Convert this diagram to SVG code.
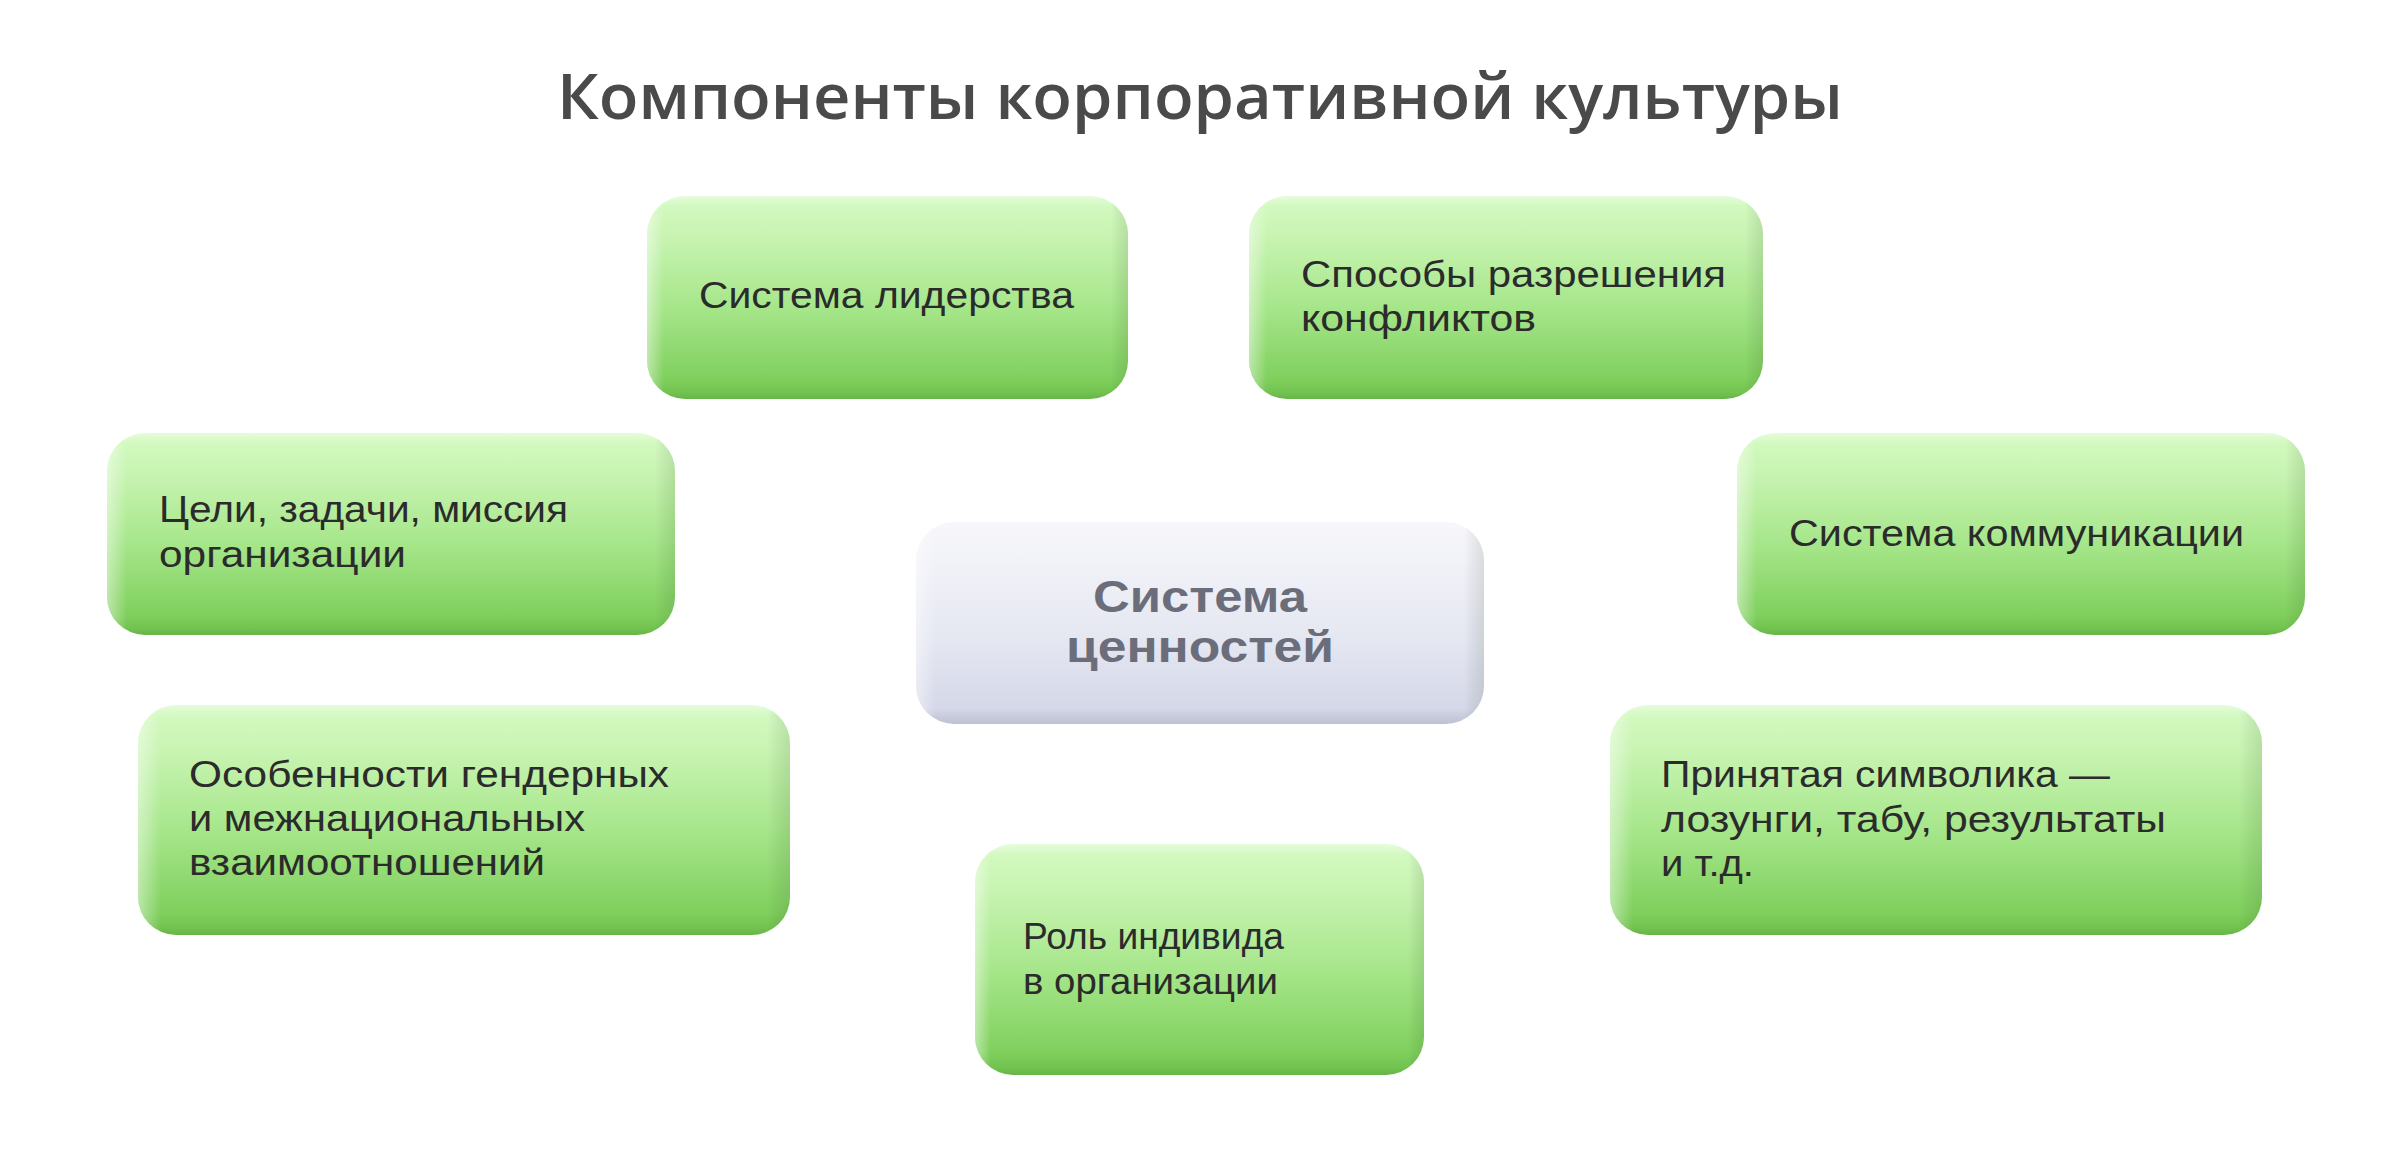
<svg xmlns="http://www.w3.org/2000/svg" width="2400" height="1156" viewBox="0 0 2400 1156">
<defs>
<linearGradient id="gGreen" x1="0" y1="0" x2="0" y2="1">
<stop offset="0" stop-color="#e6fcdc"/>
<stop offset="0.05" stop-color="#d2f9bf"/>
<stop offset="0.2" stop-color="#c8f4b2"/>
<stop offset="0.55" stop-color="#a6e68a"/>
<stop offset="0.9" stop-color="#80d05e"/>
<stop offset="0.97" stop-color="#72c250"/>
<stop offset="1" stop-color="#66b446"/>
</linearGradient>
<linearGradient id="gGrey" x1="0" y1="0" x2="0" y2="1">
<stop offset="0" stop-color="#f7f7fb"/>
<stop offset="0.2" stop-color="#f1f2f8"/>
<stop offset="0.6" stop-color="#e4e6f1"/>
<stop offset="0.92" stop-color="#d5d8e8"/>
<stop offset="1" stop-color="#bec1d3"/>
</linearGradient>
<linearGradient id="gEdge" x1="0" y1="0" x2="1" y2="0">
<stop offset="0" stop-color="#ffffff" stop-opacity="0.45"/>
<stop offset="0.035" stop-color="#ffffff" stop-opacity="0"/>
<stop offset="0.965" stop-color="#000000" stop-opacity="0"/>
<stop offset="1" stop-color="#204010" stop-opacity="0.12"/>
</linearGradient>
</defs>
<style>
.g{fill:url(#gGreen)}
.c{fill:url(#gGrey)}
.e{fill:url(#gEdge)}
.t{font-family:"Liberation Sans","Noto Sans",sans-serif;font-size:37px;fill:#2b2b2b}
.h{font-family:"Open Sans","Noto Sans","Liberation Sans",sans-serif;font-size:64px;font-weight:600;fill:#4a4a4a}
.m{font-family:"Liberation Sans","Noto Sans",sans-serif;font-size:44px;font-weight:bold;fill:#6b6e7a}
</style>
<rect width="2400" height="1156" fill="#ffffff"/>
<text class="h" x="1200" y="119" text-anchor="middle" textLength="1286" lengthAdjust="spacingAndGlyphs">Компоненты корпоративной культуры</text>
<g id="connectors"></g>
<g id="n-leadership">
<rect class="g" x="647" y="196" width="481" height="203" rx="38"/>
<rect class="e" x="647" y="196" width="481" height="203" rx="38"/>
<text class="t" x="699" y="308" textLength="375" lengthAdjust="spacingAndGlyphs">Система лидерства</text>
</g>
<g id="n-conflicts">
<rect class="g" x="1249" y="196" width="514" height="203" rx="38"/>
<rect class="e" x="1249" y="196" width="514" height="203" rx="38"/>
<text class="t" x="1301" y="287" textLength="425" lengthAdjust="spacingAndGlyphs">Способы разрешения</text>
<text class="t" x="1301" y="331" textLength="235" lengthAdjust="spacingAndGlyphs">конфликтов</text>
</g>
<g id="n-goals">
<rect class="g" x="107" y="433" width="568" height="202" rx="38"/>
<rect class="e" x="107" y="433" width="568" height="202" rx="38"/>
<text class="t" x="159" y="522" textLength="409" lengthAdjust="spacingAndGlyphs">Цели, задачи, миссия</text>
<text class="t" x="159" y="567" textLength="247" lengthAdjust="spacingAndGlyphs">организации</text>
</g>
<g id="n-communication">
<rect class="g" x="1737" y="433" width="568" height="202" rx="38"/>
<rect class="e" x="1737" y="433" width="568" height="202" rx="38"/>
<text class="t" x="1789" y="546" textLength="455" lengthAdjust="spacingAndGlyphs">Система коммуникации</text>
</g>
<g id="n-values">
<rect class="c" x="916" y="522" width="568" height="202" rx="38"/>
<rect class="e" x="916" y="522" width="568" height="202" rx="38"/>
<text class="m" x="1200" y="612" text-anchor="middle" textLength="214" lengthAdjust="spacingAndGlyphs">Система</text>
<text class="m" x="1200" y="662" text-anchor="middle" textLength="268" lengthAdjust="spacingAndGlyphs">ценностей</text>
</g>
<g id="n-gender">
<rect class="g" x="138" y="705" width="652" height="230" rx="38"/>
<rect class="e" x="138" y="705" width="652" height="230" rx="38"/>
<text class="t" x="189" y="787" textLength="480" lengthAdjust="spacingAndGlyphs">Особенности гендерных</text>
<text class="t" x="189" y="831" textLength="396" lengthAdjust="spacingAndGlyphs">и межнациональных</text>
<text class="t" x="189" y="875" textLength="356" lengthAdjust="spacingAndGlyphs">взаимоотношений</text>
</g>
<g id="n-symbols">
<rect class="g" x="1610" y="705" width="652" height="230" rx="38"/>
<rect class="e" x="1610" y="705" width="652" height="230" rx="38"/>
<text class="t" x="1661" y="787" textLength="449" lengthAdjust="spacingAndGlyphs">Принятая символика —</text>
<text class="t" x="1661" y="832" textLength="505" lengthAdjust="spacingAndGlyphs">лозунги, табу, результаты</text>
<text class="t" x="1661" y="876" textLength="93" lengthAdjust="spacingAndGlyphs">и т.д.</text>
</g>
<g id="n-role">
<rect class="g" x="975" y="844" width="449" height="231" rx="38"/>
<rect class="e" x="975" y="844" width="449" height="231" rx="38"/>
<text class="t" x="1023" y="949" textLength="261" lengthAdjust="spacingAndGlyphs">Роль индивида</text>
<text class="t" x="1023" y="994" textLength="255" lengthAdjust="spacingAndGlyphs">в организации</text>
</g>
</svg>
